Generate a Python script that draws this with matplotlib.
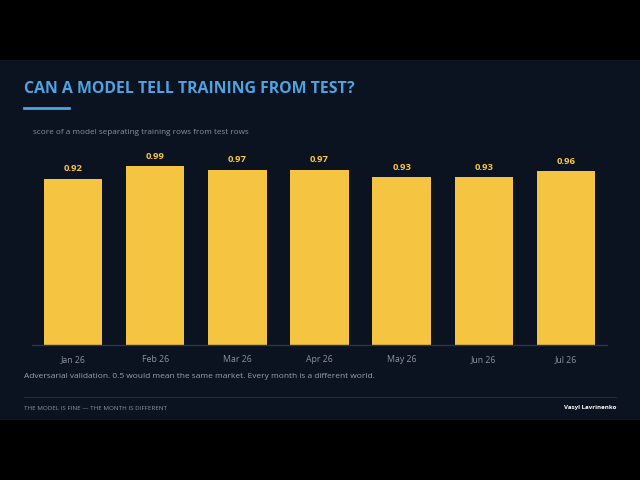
import matplotlib.pyplot as plt
from matplotlib.patches import Rectangle
from matplotlib.lines import Line2D

months = ["Jan 26", "Feb 26", "Mar 26", "Apr 26", "May 26", "Jun 26", "Jul 26"]
scores = [0.92, 0.99, 0.97, 0.97, 0.93, 0.93, 0.96]

bg = "#0b1220"
yellow = "#f5c542"
blue = "#4fa3e0"
grey = "#8a93a6"

plt.rcParams['font.family'] = ['Open Sans', 'DejaVu Sans']

fig = plt.figure(figsize=(6.4, 4.8), dpi=100, facecolor="black")
# slide panel
fig.patches.append(Rectangle((0, 60 / 480), 1, 360 / 480, transform=fig.transFigure,
                             facecolor=bg, edgecolor="none", zorder=-5))

fig.text(24 / 640, 1 - 89 / 480, "CAN A MODEL TELL TRAINING FROM TEST?", color=blue,
         fontsize=11.4, fontweight="bold", va="center", ha="left")
fig.lines.append(Line2D([24 / 640, 69 / 640], [1 - 108 / 480] * 2, transform=fig.transFigure,
                        color=blue, lw=2))
fig.text(33 / 640, 1 - 133 / 480, "score of a model separating training rows from test rows",
         color=grey, fontsize=5.9, va="center", ha="left")

ax = fig.add_axes([32 / 640, 1 - 345 / 480, 575 / 640, 199 / 480])
ax.set_facecolor(bg)
x = range(len(months))
bars = ax.bar(x, scores, width=0.71, color=yellow, zorder=2)
for xi, v in zip(x, scores):
    ax.text(xi, v + 0.028, f"{v:.2f}", color=yellow, fontsize=6.8, fontweight="bold",
            ha="center", va="bottom")
ax.set_xlim(-0.5, 6.5)
ax.set_ylim(0, 1.1)
ax.set_yticks([])
ax.set_xticks(list(x))
ax.set_xticklabels(months, color=grey, fontsize=6.3)
ax.tick_params(axis="x", length=0, pad=7.5)
for s in ["top", "right", "left"]:
    ax.spines[s].set_visible(False)
ax.spines["bottom"].set_color("#2a3550")
ax.spines["bottom"].set_linewidth(1)

fig.text(24 / 640, 1 - 377 / 480,
         "Adversarial validation. 0.5 would mean the same market. Every month is a different world.",
         color="#9aa3b5", fontsize=6, va="center", ha="left")
fig.lines.append(Line2D([24 / 640, 616 / 640], [1 - 397 / 480] * 2, transform=fig.transFigure,
                        color="#1e2a40", lw=0.8))
fig.text(24 / 640, 1 - 408 / 480, "THE MODEL IS FINE \u2014 THE MONTH IS DIFFERENT",
         color=grey, fontsize=4.5, va="center", ha="left")
fig.text(616 / 640, 1 - 408 / 480, "Vasyl Lavrinenko", color="white", fontsize=4.4,
         fontweight="bold", va="center", ha="right")

fig.savefig("out.png", dpi=100, facecolor=fig.get_facecolor())
